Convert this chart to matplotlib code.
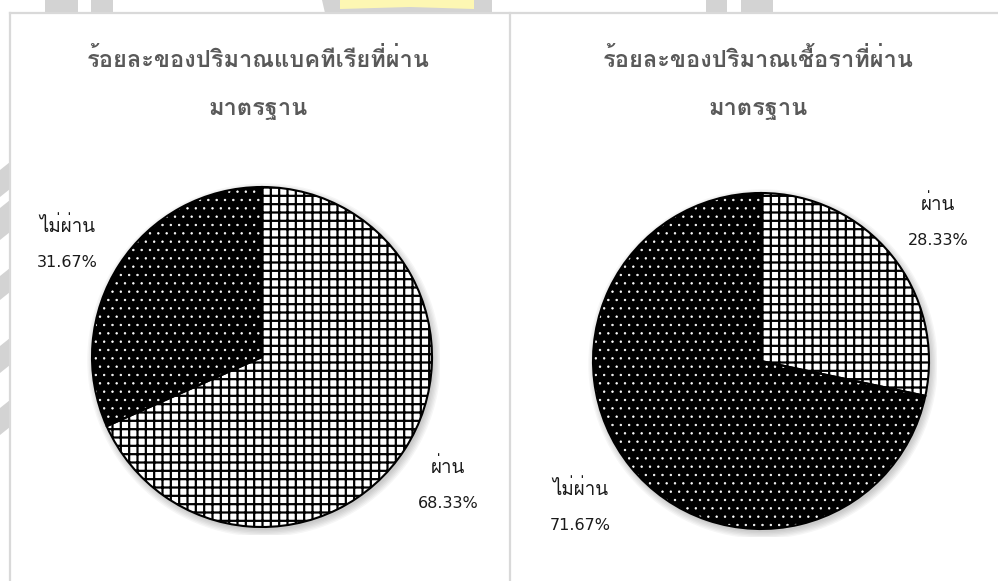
import matplotlib
matplotlib.use("Agg")
import matplotlib.pyplot as plt
from matplotlib.patches import Rectangle, Polygon, Circle

W, H = 998, 581

# data
labels = ["ผ่าน", "ไม่ผ่าน"]
bacteria_pct = [68.33, 31.67]
fungi_pct = [28.33, 71.67]
titles = ["ร้อยละของปริมาณแบคทีเรียที่ผ่าน\nมาตรฐาน", "ร้อยละของปริมาณเชื้อราที่ผ่าน\nมาตรฐาน"]

THAI = ["Loma", "Sarabun", "DejaVu Sans"]
NUM = ["DejaVu Sans"]


def px(x, y):
    return x / W, 1 - y / H


def box(cx, cy, r):
    return [(cx - r) / W, (H - cy - r) / H, 2 * r / W, 2 * r / H]


fig = plt.figure(figsize=(W / 100, H / 100), dpi=100)
fig.patch.set_facecolor("white")

# faint background decoration behind the panels
bg = fig.add_axes([0, 0, 1, 1], zorder=-5)
bg.set_xlim(0, W)
bg.set_ylim(H, 0)
bg.axis("off")
grey = "#d3d3d3"
for x0, x1 in [(45, 78), (91, 113), (706, 727), (741, 773)]:
    bg.add_patch(Rectangle((x0, 0), x1 - x0, 13, color=grey, lw=0))
bg.add_patch(Polygon([(322, 0), (492, 0), (492, 13), (325, 13)], color=grey, lw=0))
bg.add_patch(Polygon([(340, 0), (474, 0), (474, 9), (410, 7), (340, 9)], color="#fdf7b3", lw=0))
for y0, y1 in [(162, 197), (200, 240), (268, 300), (338, 373), (400, 435)]:
    bg.add_patch(Polygon([(0, y0 + 8), (10, y0), (10, y1 - 8), (0, y1)], color=grey, lw=0))

# panel frames
bg.plot([10, W], [13, 13], color="#d9d9d9", lw=1.6)
bg.plot([10, 10], [13, H], color="#d9d9d9", lw=1.6)
bg.plot([510, 510], [13, H], color="#d9d9d9", lw=1.6)
bg.add_patch(Rectangle((11, 14), 498, H, color="white", lw=0, zorder=-1))
bg.add_patch(Rectangle((511, 14), W, H, color="white", lw=0, zorder=-1))

plt.rcParams["hatch.linewidth"] = 1.6


def draw_pie(values, center, r):
    ax = fig.add_axes(box(center[0], center[1], r + 8))
    ax.axis("off")
    s = (r + 8) / r
    # soft shadow
    for k in range(6):
        ax.add_patch(Circle((0.012, -0.018), 1.0 + 0.008 * k, color="black",
                            alpha=0.035, lw=0, zorder=0))
    wedges, _ = ax.pie(values, startangle=90, counterclock=False, radius=1,
                       colors=["white", "black"],
                       wedgeprops=dict(linewidth=0))
    wedges[0].set_hatch("++")
    wedges[0].set_edgecolor("black")
    wedges[1].set_hatch("..")
    wedges[1].set_edgecolor("white")
    if hasattr(wedges[1], "set_hatch_linewidth"):
        wedges[1].set_hatch_linewidth(0.5)
    for w in wedges:
        w.set_zorder(2)
    outline, _ = ax.pie(values, startangle=90, counterclock=False, radius=1,
                        colors=["none", "none"],
                        wedgeprops=dict(linewidth=1.5, edgecolor="black"))
    for w in outline:
        w.set_zorder(3)
    ax.set_xlim(-s, s)
    ax.set_ylim(-s, s)
    return ax


draw_pie(bacteria_pct, (262, 357), 170)
draw_pie(fungi_pct, (761, 361), 168)

# titles
for t, cx in zip(titles, [258, 758]):
    l1, l2 = t.split("\n")
    fig.text(*px(cx, 67), l1, ha="center", va="baseline", fontsize=17,
             fontweight="bold", color="#595959", family=THAI)
    fig.text(*px(cx, 115), l2, ha="center", va="baseline", fontsize=17,
             fontweight="bold", color="#595959", family=THAI)

# data labels
label_pos = [
    [(448, 473, 508), (67, 232, 267)],
    [(938, 210, 245), (580, 495, 530)],
]
for vals, pos in zip([bacteria_pct, fungi_pct], label_pos):
    for name, v, (x, y1, y2) in zip(labels, vals, pos):
        fig.text(*px(x, y1), name, ha="center", va="baseline", fontsize=13.5,
                 color="#1a1a1a", family=THAI)
        fig.text(*px(x, y2), f"{v:.2f}%", ha="center", va="baseline",
                 fontsize=11.5, color="#1a1a1a", family=NUM)

fig.savefig("out.png", dpi=100)
